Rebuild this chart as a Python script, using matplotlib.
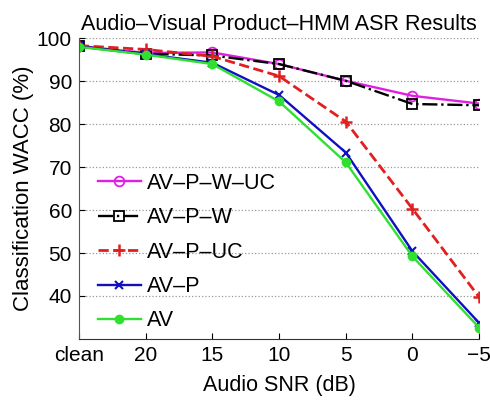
import matplotlib
matplotlib.use("Agg")
import matplotlib.pyplot as plt

plt.rcParams['font.family'] = ['Liberation Sans', 'DejaVu Sans']

snr_labels = ["clean", "20", "15", "10", "5", "0", "\u22125"]
av_p_w_uc = [98.2, 96.6, 96.7, 94.0, 90.1, 86.6, 84.8]
av_p_w = [98.1, 96.4, 96.0, 94.0, 90.1, 84.7, 84.4]
av_p_uc = [98.3, 97.4, 95.8, 91.2, 80.6, 60.3, 39.7]
av_p = [98.1, 96.3, 94.3, 86.8, 73.4, 50.4, 33.7]
av = [98.0, 96.2, 94.0, 85.3, 71.1, 49.2, 32.6]

x = list(range(len(snr_labels)))

fig = plt.figure(figsize=(4.9, 4.03), dpi=100)
ax = fig.add_axes([0.161, 0.159, 0.817, 0.746])

ax.plot(x, av_p_w_uc, color="#e020e0", marker="o", mfc="none", ms=7, mew=1.3, lw=1.7, label="AV\u2013P\u2013W\u2013UC")
ax.plot(x, av_p_w, color="black", ls="-.", marker="s", mfc="none", ms=7, mew=1.3, lw=1.7, label="AV\u2013P\u2013W")
ax.plot(x, av_p_uc, color="#e02020", ls="--", marker="+", ms=8, mew=1.8, lw=2.0, label="AV\u2013P\u2013UC")
ax.plot(x, av_p, color="#1010c0", marker="x", ms=6, mew=1.5, lw=1.7, label="AV\u2013P")
ax.plot(x, av, color="#30e030", marker="o", ms=6, lw=1.7, label="AV")

ax.set_xlim(0, 6)
ax.set_ylim(30, 100)
ax.set_xticks(x)
ax.set_xticklabels(snr_labels)
ax.set_yticks([40, 50, 60, 70, 80, 90, 100])
ax.yaxis.grid(True, ls=":", color="#999999", lw=0.9)
ax.set_axisbelow(True)

for s in ["top", "right"]:
    ax.spines[s].set_visible(False)
ax.spines["left"].set_color("#555555")
ax.spines["bottom"].set_color("#333333")
ax.tick_params(direction="in", labelsize=15, length=4, pad=5)

ax.set_title("Audio\u2013Visual Product\u2013HMM ASR Results", fontsize=15.5, pad=6)
ax.set_xlabel("Audio SNR (dB)", fontsize=15.5, labelpad=7)
ax.set_ylabel("Classification WACC (%)", fontsize=16, labelpad=2)

ax.legend(loc="lower left", bbox_to_anchor=(0.028, 0.0), frameon=False, fontsize=15.5,
          handlelength=2.0, labelspacing=0.62, borderaxespad=0.0, borderpad=0.35,
          handletextpad=0.3)

fig.savefig("out.png", dpi=100)
